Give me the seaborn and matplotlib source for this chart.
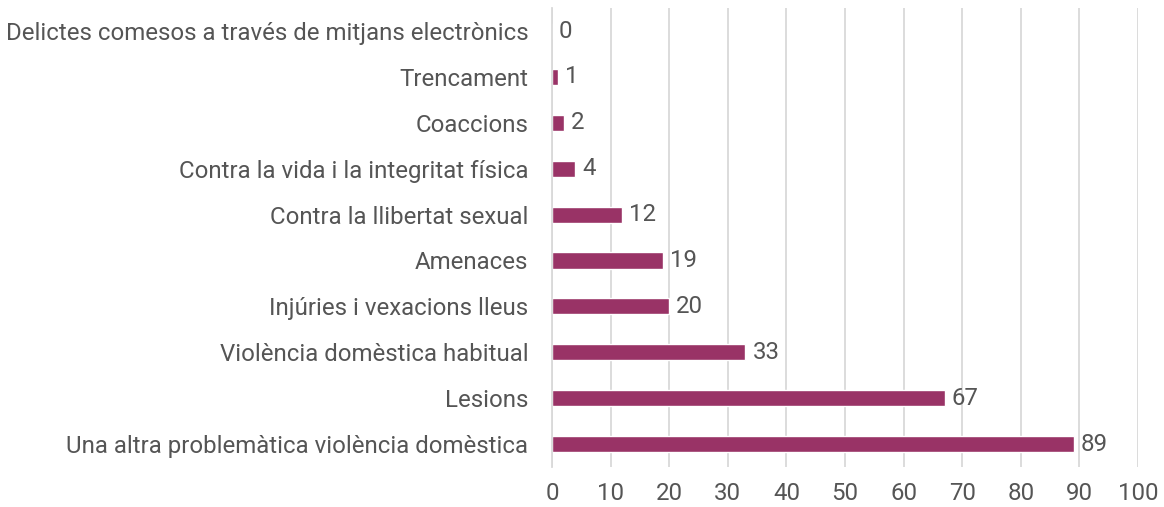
import matplotlib
matplotlib.use("Agg")
import matplotlib.pyplot as plt
import seaborn as sns
import pandas as pd

categories = [
    "Delictes comesos a través de mitjans electrònics",
    "Trencament",
    "Coaccions",
    "Contra la vida i la integritat física",
    "Contra la llibertat sexual",
    "Amenaces",
    "Injúries i vexacions lleus",
    "Violència domèstica habitual",
    "Lesions",
    "Una altra problemàtica violència domèstica",
]
values = [0, 1, 2, 4, 12, 19, 20, 33, 67, 89]
x_ticks = [0, 10, 20, 30, 40, 50, 60, 70, 80, 90, 100]

sns.set_theme(style="white")
plt.rcParams["font.family"] = ["Roboto", "DejaVu Sans"]

df = pd.DataFrame({"cat": categories, "val": values})

fig = plt.figure(figsize=(11.64, 5.07), dpi=100)
ax = fig.add_axes([0.4742, 0.079, 0.5035, 0.905])

text_color = "#555555"
grid_color = "#D9D9D9"

sns.barplot(data=df, x="val", y="cat", orient="h", color="#993366",
            width=0.35, ax=ax, saturation=1)

ax.set_xlim(0, 100)
ax.set_ylim(len(categories) - 0.5, -0.5)
ax.set_xticks(x_ticks)
ax.set_xticklabels([str(t) for t in x_ticks])
ax.set_xlabel("")
ax.set_ylabel("")
ax.grid(axis="x", color=grid_color, linewidth=1.3)
ax.set_axisbelow(True)
for s in ["top", "right", "bottom"]:
    ax.spines[s].set_visible(False)
ax.spines["left"].set_color(grid_color)
ax.spines["left"].set_linewidth(1.3)
ax.tick_params(axis="both", length=0, colors=text_color, labelsize=17.3)
ax.tick_params(axis="y", pad=17)
ax.tick_params(axis="x", pad=11)

for i, v in enumerate(values):
    ax.text(v + 1.2, i, str(v), va="center", ha="left", fontsize=17.3,
            color=text_color)

fig.savefig("out.png", dpi=100)
